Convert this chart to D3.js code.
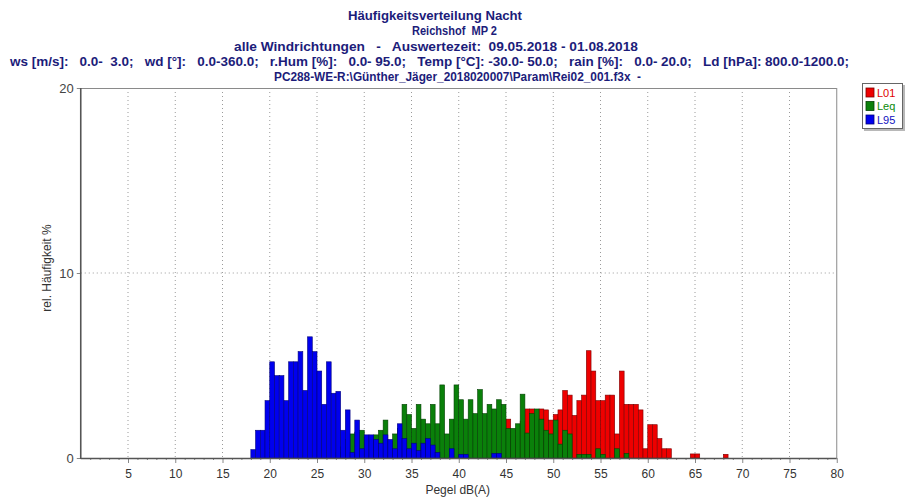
<!DOCTYPE html>
<html>
<head>
<meta charset="utf-8">
<script src="https://cdn.jsdelivr.net/npm/d3@7"></script>
<style>
  html, body { margin: 0; padding: 0; background: #fff; }
  svg { display: block; }
  text { font-family: "Liberation Sans", Arial, sans-serif; }
</style>
</head>
<body>
<svg id="chart" width="911" height="497"></svg>
<script>
// Histogram classes: lower edge of each 0.5 dB bin
const bins = [
  18.0, 18.5, 19.0, 19.5, 20.0, 20.5, 21.0, 21.5, 22.0, 22.5,
  23.0, 23.5, 24.0, 24.5, 25.0, 25.5, 26.0, 26.5, 27.0, 27.5,
  28.0, 28.5, 29.0, 29.5, 30.0, 30.5, 31.0, 31.5, 32.0, 32.5,
  33.0, 33.5, 34.0, 34.5, 35.0, 35.5, 36.0, 36.5, 37.0, 37.5,
  38.0, 38.5, 39.0, 39.5, 40.0, 40.5, 41.0, 41.5, 42.0, 42.5,
  43.0, 43.5, 44.0, 44.5, 45.0, 45.5, 46.0, 46.5, 47.0, 47.5,
  48.0, 48.5, 49.0, 49.5, 50.0, 50.5, 51.0, 51.5, 52.0, 52.5,
  53.0, 53.5, 54.0, 54.5, 55.0, 55.5, 56.0, 56.5, 57.0, 57.5,
  58.0, 58.5, 59.0, 59.5, 60.0, 60.5, 61.0, 61.5, 62.0, 62.5,
  63.0, 63.5, 64.0, 64.5, 65.0, 65.5, 66.0, 66.5, 67.0, 67.5,
  68.0
];
const binWidth = 0.5;

// relative frequency in % per bin
const l01 = [
  0, 0, 0, 0, 0, 0, 0, 0, 0, 0,
  0, 0, 0, 0, 0, 0, 0, 0, 0, 0,
  0, 0, 0, 0, 0, 0, 0, 0, 0, 0,
  0, 0, 0, 0, 0, 0, 0, 0, 0, 0,
  0, 0, 0, 0, 0, 0, 0, 0, 0, 0,
  0, 0, 0, 0, 2.1, 1.2, 1.5, 2.0, 2.65, 2.65,
  2.3, 2.65, 2.6, 2.05, 2.35, 2.6, 3.65, 3.4, 2.3, 3.1,
  3.4, 5.8, 4.7, 3.1, 3.1, 3.4, 3.4, 1.3, 4.7, 2.9,
  2.9, 2.9, 2.6, 0.5, 1.8, 1.8, 1.05, 0.5, 0.5, 0,
  0, 0, 0, 0.22, 0.22, 0, 0, 0, 0, 0,
  0.2
];
const leq = [
  0, 0, 0, 0, 0, 0, 0, 0, 0, 0,
  0, 0, 0, 0, 0, 0, 0, 0, 0.3, 0.6,
  1.0, 1.3, 1.4, 1.5, 1.1, 1.2, 1.25, 1.5, 2.05, 0.9,
  1.3, 1.6, 2.9, 2.35, 1.6, 2.9, 2.1, 1.85, 2.9, 1.85,
  3.95, 1.3, 2.1, 3.95, 3.15, 2.1, 3.15, 2.4, 3.7, 2.4,
  2.9, 2.65, 3.15, 2.9, 1.6, 1.6, 1.85, 3.45, 1.35, 2.4,
  2.65, 2.1, 1.5, 1.3, 2.05, 0.75, 1.5, 1.3, 0, 0.2,
  0.2, 0.2, 0, 0.5, 0.2, 0, 0, 0.5, 0, 0.25,
  0, 0, 0, 0, 0, 0, 0, 0, 0, 0,
  0, 0, 0, 0, 0, 0, 0, 0, 0, 0,
  0
];
const l95 = [
  0.45, 1.5, 1.5, 3.1, 5.2, 4.45, 4.45, 3.1, 5.2, 5.2,
  5.75, 3.65, 6.55, 5.75, 4.7, 2.9, 5.2, 3.5, 3.6, 1.5,
  2.6, 0.3, 2.05, 0.5, 1.25, 1.25, 1.0, 0.8, 1.25, 1.0,
  0.5, 1.85, 1.05, 0.5, 0.8, 0.4, 0.8, 1.05, 0.7, 0.3,
  0, 0, 0.5, 0, 0.2, 0.2, 0, 0, 0, 0,
  0, 0.25, 0.25, 0, 0, 0, 0, 0, 0, 0,
  0, 0, 0, 0, 0, 0, 0, 0, 0, 0,
  0, 0, 0, 0, 0, 0, 0, 0, 0, 0,
  0, 0, 0, 0, 0, 0, 0, 0, 0, 0,
  0, 0, 0, 0, 0, 0, 0, 0, 0, 0,
  0
];

const seriesNames = ["L01", "Leq", "L95"];
const seriesValues = [l01, leq, l95];
const seriesFill = ["#ee0000", "#0a800a", "#0000ee"];
const seriesStroke = ["#7a0000", "#044004", "#00007a"];
const legendText = ["#e00000", "#0a8a0a", "#1010c0"];

const xTickLabels = [5, 10, 15, 20, 25, 30, 35, 40, 45, 50, 55, 60, 65, 70, 75, 80];
const yTickLabels = [0, 10, 20];

const titleLines = [
  "Häufigkeitsverteilung Nacht",
  "Reichshof  MP 2",
  "alle Windrichtungen   -   Auswertezeit:  09.05.2018 - 01.08.2018",
  "ws [m/s]:   0.0-  3.0;   wd [°]:   0.0-360.0;   r.Hum [%]:   0.0- 95.0;   Temp [°C]: -30.0- 50.0;   rain [%]:   0.0- 20.0;   Ld [hPa]: 800.0-1200.0;",
  "PC288-WE-R:\\Günther_Jäger_2018020007\\Param\\Rei02_001.f3x  -"
];

// ---- layout ----
const svg = d3.select("#chart");
const plot = { left: 80.75, right: 836.75, top: 88, bottom: 458 };

const x = d3.scaleLinear().domain([0, 80]).range([plot.left, plot.right]);
const y = d3.scaleLinear().domain([0, 20]).range([plot.bottom, plot.top]);

// ---- title block ----
const titleColor = "#1c1c7a";
const titleLayout = [
  { x0: 348, x1: 522, y: 19.5 },
  { x0: 412, x1: 497, y: 35 },
  { x0: 234, x1: 638, y: 50.5 },
  { x0: 10, x1: 849, y: 65.5 },
  { x0: 274, x1: 641, y: 80.5 }
];
svg.append("g").selectAll("text")
  .data(titleLines)
  .join("text")
  .attr("x", (d, i) => titleLayout[i].x0)
  .attr("y", (d, i) => titleLayout[i].y)
  .attr("textLength", (d, i) => titleLayout[i].x1 - titleLayout[i].x0)
  .attr("lengthAdjust", "spacingAndGlyphs")
  .attr("xml:space", "preserve")
  .style("white-space", "pre")
  .attr("font-family", "'Liberation Sans Narrow', 'Liberation Sans', Arial, sans-serif")
  .attr("font-weight", "bold")
  .attr("font-size", 12)
  .attr("fill", titleColor)
  .text(d => d);

// ---- grid ----
const grid = svg.append("g");
grid.selectAll("line.vx")
  .data(xTickLabels.filter(v => v < 80))
  .join("line")
  .attr("x1", d => x(d)).attr("x2", d => x(d))
  .attr("y1", plot.top).attr("y2", plot.bottom)
  .attr("stroke", "#9a9a9a").attr("stroke-width", 1)
  .attr("stroke-dasharray", "1,3");
grid.selectAll("line.hy")
  .data([10])
  .join("line")
  .attr("x1", plot.left).attr("x2", plot.right)
  .attr("y1", d => y(d)).attr("y2", d => y(d))
  .attr("stroke", "#9a9a9a").attr("stroke-width", 1)
  .attr("stroke-dasharray", "1,3");

// frame top and right
svg.append("line")
  .attr("x1", plot.left).attr("x2", plot.right)
  .attr("y1", y(20) + 0.5).attr("y2", y(20) + 0.5)
  .attr("stroke", "#8a8a8a").attr("stroke-width", 1);
svg.append("line")
  .attr("x1", plot.right).attr("x2", plot.right)
  .attr("y1", plot.top).attr("y2", plot.bottom)
  .attr("stroke", "#8a8a8a").attr("stroke-width", 1);

// ---- bars: L01 behind, Leq middle, L95 in front ----
const barsG = svg.append("g");
seriesValues.forEach((vals, si) => {
  const data = bins.map((b, i) => ({ b, v: vals[i] })).filter(d => d.v > 0);
  barsG.append("g")
    .selectAll("rect")
    .data(data)
    .join("rect")
    .attr("x", d => x(d.b))
    .attr("width", d => x(d.b + binWidth) - x(d.b))
    .attr("y", d => y(d.v))
    .attr("height", d => y(0) - y(d.v))
    .attr("fill", seriesFill[si])
    .attr("stroke", seriesStroke[si])
    .attr("stroke-width", 0.6);
});

// ---- axes ----
const axisColor = "#555";
const xAxis = d3.axisBottom(x)
  .tickValues(xTickLabels)
  .tickSize(5)
  .tickPadding(6)
  .tickFormat(d3.format("d"));
const gx = svg.append("g")
  .attr("transform", `translate(0,${plot.bottom})`)
  .call(xAxis);
gx.select(".domain").remove();
gx.selectAll(".tick line").attr("stroke", "#888");
gx.selectAll(".tick text")
  .attr("font-size", 12)
  .attr("fill", "#333")
  .attr("font-family", "'Liberation Sans', Arial, sans-serif");

// minor ticks every 1 dB
const minorX = d3.axisBottom(x)
  .tickValues(d3.range(1, 80, 1).filter(v => v % 5 !== 0))
  .tickSize(2)
  .tickFormat("");
const gxm = svg.append("g")
  .attr("transform", `translate(0,${plot.bottom})`)
  .call(minorX);
gxm.select(".domain").remove();
gxm.selectAll(".tick line").attr("stroke", "#888");

const yAxis = d3.axisLeft(y)
  .tickValues(yTickLabels)
  .tickSize(4)
  .tickPadding(3)
  .tickFormat(d3.format("d"));
const gy = svg.append("g")
  .attr("transform", `translate(${plot.left},0)`)
  .call(yAxis);
gy.select(".domain").remove();
gy.selectAll(".tick line").attr("stroke", "#888");
gy.selectAll(".tick text")
  .attr("font-size", 13)
  .attr("fill", "#444")
  .attr("font-family", "'Liberation Sans', Arial, sans-serif");

// axis lines (left and bottom, darker)
svg.append("line")
  .attr("x1", plot.left).attr("x2", plot.left)
  .attr("y1", plot.top).attr("y2", plot.bottom + 1)
  .attr("stroke", axisColor).attr("stroke-width", 1.6);
svg.append("line")
  .attr("x1", plot.left).attr("x2", plot.right)
  .attr("y1", plot.bottom + 0.5).attr("y2", plot.bottom + 0.5)
  .attr("stroke", axisColor).attr("stroke-width", 1.6);

// axis titles
svg.append("text")
  .attr("x", (plot.left + plot.right) / 2 - 1)
  .attr("y", 494)
  .attr("text-anchor", "middle")
  .attr("font-size", 12)
  .attr("fill", "#333")
  .text("Pegel dB(A)");
svg.append("text")
  .attr("transform", `translate(51,268) rotate(-90)`)
  .attr("text-anchor", "middle")
  .attr("font-size", 12)
  .attr("fill", "#333")
  .text("rel. Häufigkeit %");

// ---- legend ----
const lg = svg.append("g").attr("transform", "translate(862,83)");
lg.append("rect")
  .attr("x", 2).attr("y", 2).attr("width", 41).attr("height", 46)
  .attr("fill", "#b8b8b8");
lg.append("rect")
  .attr("x", 0.5).attr("y", 0.5).attr("width", 40).attr("height", 45)
  .attr("fill", "#fff").attr("stroke", "#666");
const rows = lg.selectAll("g.row")
  .data(seriesNames)
  .join("g")
  .attr("transform", (d, i) => `translate(4,${5 + i * 13.5})`);
rows.append("rect")
  .attr("width", 8).attr("height", 9)
  .attr("fill", (d, i) => seriesFill[i])
  .attr("stroke", (d, i) => seriesStroke[i])
  .attr("stroke-width", 0.8);
rows.append("text")
  .attr("x", 11).attr("y", 8.5)
  .attr("font-size", 11)
  .attr("fill", (d, i) => legendText[i])
  .text(d => d);
</script>
</body>
</html>
